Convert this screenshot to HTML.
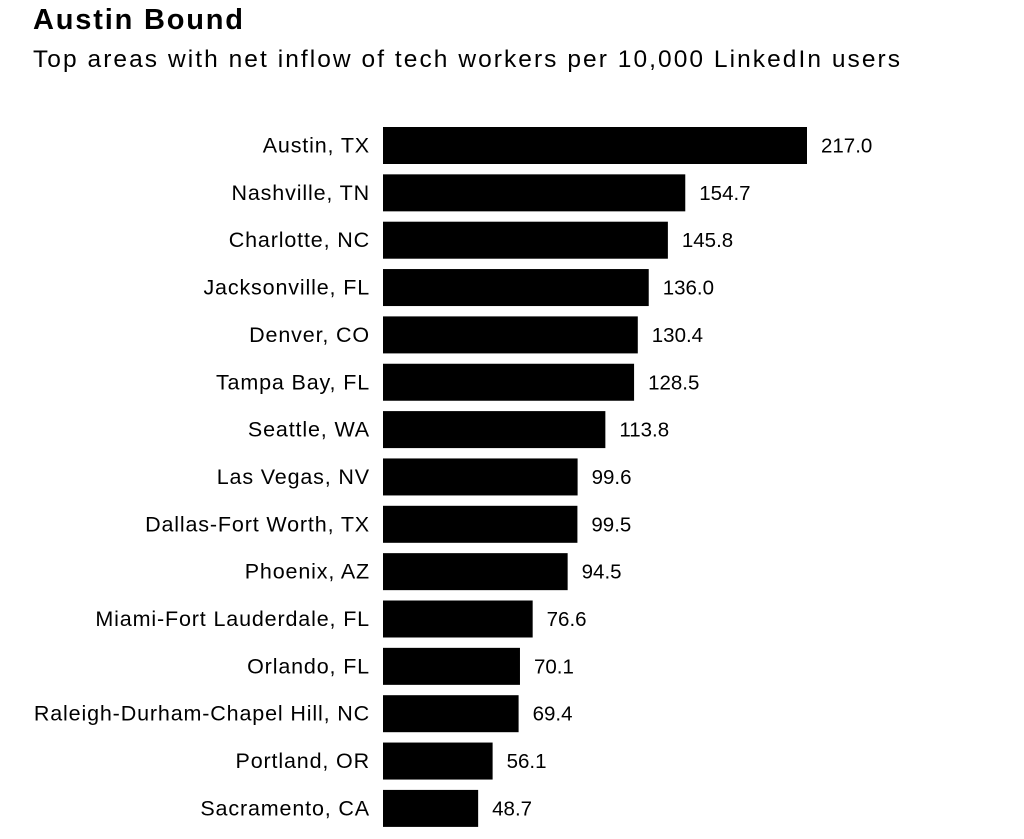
<!DOCTYPE html>
<html><head><meta charset="utf-8"><style>
body{margin:0;background:#fff;width:1024px;height:834px;overflow:hidden;font-family:"Liberation Sans",sans-serif;}
</style></head><body>
<svg width="1024" height="834">
<text x="33" y="29" font-size="29" font-weight="bold" fill="#000" textLength="210" lengthAdjust="spacing">Austin Bound</text>
<text x="33" y="67" font-size="24.5" fill="#000" textLength="867" lengthAdjust="spacing">Top areas with net inflow of tech workers per 10,000 LinkedIn users</text>
<g id="bars"></g>
</svg>
<script>
const categories=["Austin, TX","Nashville, TN","Charlotte, NC","Jacksonville, FL","Denver, CO","Tampa Bay, FL","Seattle, WA","Las Vegas, NV","Dallas-Fort Worth, TX","Phoenix, AZ","Miami-Fort Lauderdale, FL","Orlando, FL","Raleigh-Durham-Chapel Hill, NC","Portland, OR","Sacramento, CA"];
const values=[217.0,154.7,145.8,136.0,130.4,128.5,113.8,99.6,99.5,94.5,76.6,70.1,69.4,56.1,48.7];
const labels=["217.0","154.7","145.8","136.0","130.4","128.5","113.8","99.6","99.5","94.5","76.6","70.1","69.4","56.1","48.7"];
const x0=383, xScale=v=>v*424/217;
const y=i=>127+i*47.35, bh=37;
const g=document.getElementById('bars');
const NS='http://www.w3.org/2000/svg';
categories.forEach((c,i)=>{
  const r=document.createElementNS(NS,'rect');
  r.setAttribute('x',x0);r.setAttribute('y',y(i));r.setAttribute('width',xScale(values[i]));r.setAttribute('height',bh);r.setAttribute('fill','#000');
  
  
  g.appendChild(r);
  const t=document.createElementNS(NS,'text');
  t.setAttribute('x',370);t.setAttribute('y',y(i)+bh/2+7);t.setAttribute('text-anchor','end');t.setAttribute('font-size','21.5');t.setAttribute('letter-spacing','0.85');t.textContent=c;
  
  
  g.appendChild(t);
  const v=document.createElementNS(NS,'text');
  v.setAttribute('x',x0+xScale(values[i])+14);v.setAttribute('y',y(i)+bh/2+7);v.setAttribute('font-size','20.5');v.textContent=labels[i];
  
  
  g.appendChild(v);
});
</script>
</body></html>
